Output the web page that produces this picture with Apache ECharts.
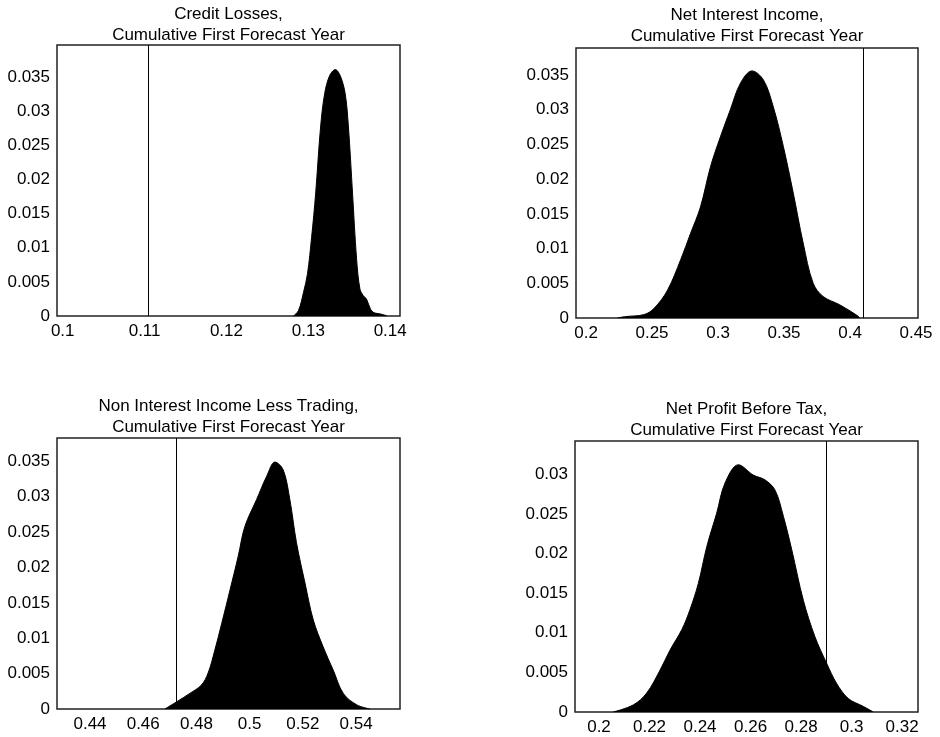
<!DOCTYPE html>
<html>
<head>
<meta charset="utf-8">
<script src="https://cdn.jsdelivr.net/npm/echarts@6/dist/echarts.min.js"></script>
<style>
  html, body { margin: 0; padding: 0; background: #fff; }
  #main { width: 940px; height: 737px; }
</style>
</head>
<body>
<div id="main"></div>
<script>
// density curves
const creditX = [0.1282, 0.1288, 0.1294, 0.1299, 0.1304, 0.1309, 0.1315, 0.1320, 0.1326, 0.1333, 0.1339, 0.1345, 0.1349, 0.1354, 0.1359, 0.1363, 0.1367, 0.1371, 0.1376, 0.1380, 0.1388, 0.1394, 0.1396]
const creditY = [0, 0.0008, 0.0034, 0.0062, 0.0115, 0.0180, 0.0277, 0.0326, 0.0352, 0.0361, 0.0352, 0.0326, 0.0277, 0.0180, 0.0083, 0.0040, 0.0030, 0.0025, 0.0010, 0.0005, 0.0003, 0.0001, 0]

const niiX = [0.2240, 0.2300, 0.2441, 0.2516, 0.2617, 0.2717, 0.2792, 0.2867, 0.2943, 0.3018, 0.3093, 0.3169, 0.3257, 0.3344, 0.3419, 0.3495, 0.3570, 0.3645, 0.3721, 0.3796, 0.3922, 0.4059, 0.4072]
const niiY = [0, 0.0002, 0.0005, 0.0014, 0.0040, 0.0084, 0.0122, 0.0160, 0.0218, 0.0261, 0.0300, 0.0338, 0.0356, 0.0343, 0.0304, 0.0247, 0.0180, 0.0108, 0.0050, 0.0031, 0.0019, 0.0003, 0]

const nonIntX = [0.4681, 0.4725, 0.4775, 0.4819, 0.4844, 0.4869, 0.4895, 0.4926, 0.4957, 0.4982, 0.5026, 0.5064, 0.5095, 0.5126, 0.5151, 0.5176, 0.5208, 0.5239, 0.5276, 0.5314, 0.5352, 0.5402, 0.5452]
const nonIntY = [0, 0.0010, 0.0022, 0.0034, 0.0051, 0.0083, 0.0121, 0.0168, 0.0216, 0.0258, 0.0296, 0.0329, 0.0349, 0.0338, 0.0296, 0.0235, 0.0178, 0.0126, 0.0088, 0.0055, 0.0022, 0.0006, 0]

const npbtX = [0.2057, 0.2136, 0.2189, 0.2242, 0.2281, 0.2328, 0.2360, 0.2393, 0.2427, 0.2466, 0.2499, 0.2552, 0.2611, 0.2657, 0.2697, 0.2730, 0.2763, 0.2809, 0.2855, 0.2902, 0.2941, 0.2987, 0.3047, 0.3086]
const npbtY = [0, 0.0009, 0.0024, 0.0053, 0.0078, 0.0104, 0.0129, 0.0162, 0.0209, 0.0251, 0.0289, 0.0312, 0.0299, 0.0293, 0.0280, 0.0247, 0.0205, 0.0141, 0.0095, 0.0061, 0.0036, 0.0017, 0.0007, 0]

// vertical reference values
const markers = [0.1104, 0.4100, 0.4723, 0.2899]

// tick labels
const creditTicks = [0.1, 0.11, 0.12, 0.13, 0.14]
const niiTicks = [0.2, 0.25, 0.3, 0.35, 0.4, 0.45]
const nonIntTicks = [0.44, 0.46, 0.48, 0.5, 0.52, 0.54]
const npbtTicks = [0.2, 0.22, 0.24, 0.26, 0.28, 0.3, 0.32]
const yTicks35 = [0, 0.005, 0.01, 0.015, 0.02, 0.025, 0.03, 0.035]
const yTicks30 = [0, 0.005, 0.01, 0.015, 0.02, 0.025, 0.03]

const titles = [
  'Credit Losses,\nCumulative First Forecast Year',
  'Net Interest Income,\nCumulative First Forecast Year',
  'Non Interest Income Less Trading,\nCumulative First Forecast Year',
  'Net Profit Before Tax,\nCumulative First Forecast Year'
]

const font = '"Liberation Sans", Arial, Helvetica, sans-serif'

const panels = [
  { grid: { left: 57, top: 45, width: 343, height: 271 }, titleTop: 4, xMin: 0.0993, xMax: 0.1412, yMax: 0.0397, xT: creditTicks, yT: yTicks35, xs: creditX, ys: creditY },
  { grid: { left: 576, top: 48, width: 342, height: 270 }, titleTop: 5, xMin: 0.1924, xMax: 0.4515, yMax: 0.0389, xT: niiTicks, yT: yTicks35, xs: niiX, ys: niiY },
  { grid: { left: 57, top: 438, width: 343, height: 271 }, titleTop: 396, xMin: 0.4276, xMax: 0.5565, yMax: 0.0383, xT: nonIntTicks, yT: yTicks35, xs: nonIntX, ys: nonIntY },
  { grid: { left: 575, top: 441, width: 343, height: 271 }, titleTop: 399, xMin: 0.1905, xMax: 0.3263, yMax: 0.0342, xT: npbtTicks, yT: yTicks30, xs: npbtX, ys: npbtY }
]

const fmt = v => String(+(+v).toFixed(4))

const chart = echarts.init(document.getElementById('main'))
chart.setOption({
  animation: false,
  backgroundColor: '#fff',
  title: panels.map((p, i) => ({
    text: titles[i],
    left: p.grid.left + p.grid.width / 2,
    top: p.titleTop,
    textAlign: 'center',
    padding: 0,
    textStyle: { fontFamily: font, fontSize: 17, fontWeight: 'normal', color: '#000', lineHeight: 21 }
  })),
  grid: panels.map(p => Object.assign({ show: true, borderColor: '#222', borderWidth: 1.5, backgroundColor: '#fff' }, p.grid)),
  xAxis: panels.map((p, i) => ({
    type: 'value',
    gridIndex: i,
    min: p.xMin,
    max: p.xMax,
    splitLine: { show: false },
    axisLine: { show: false },
    axisTick: { show: false },
    axisLabel: { customValues: p.xT, formatter: fmt, margin: 7, color: '#000', fontSize: 17, fontFamily: font }
  })),
  yAxis: panels.map((p, i) => ({
    type: 'value',
    gridIndex: i,
    min: 0,
    max: p.yMax,
    splitLine: { show: false },
    axisLine: { show: false },
    axisTick: { show: false },
    axisLabel: { customValues: p.yT, formatter: fmt, margin: 7, color: '#000', fontSize: 17, fontFamily: font }
  })),
  series: panels.map((p, i) => ({
    type: 'line',
    xAxisIndex: i,
    yAxisIndex: i,
    data: p.xs.map((x, k) => [x, p.ys[k]]),
    smooth: 0.35,
    showSymbol: false,
    lineStyle: { color: '#000', width: 1 },
    areaStyle: { color: '#000', opacity: 1 },
    markLine: {
      silent: true,
      symbol: 'none',
      precision: 4,
      label: { show: false },
      lineStyle: { type: 'solid', color: '#000', width: 1 },
      data: [{ xAxis: markers[i] }]
    }
  }))
})
</script>
</body>
</html>
